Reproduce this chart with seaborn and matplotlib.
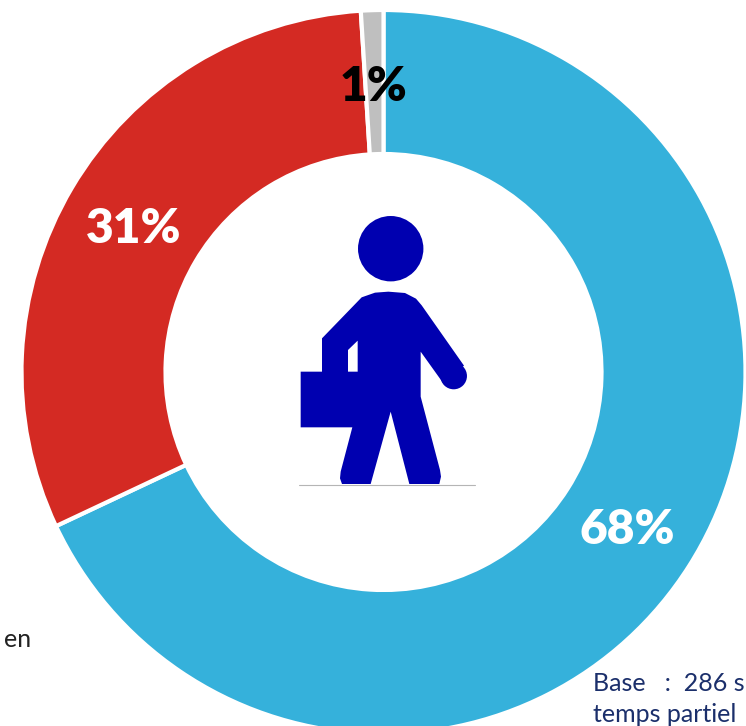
import numpy as np
import matplotlib
matplotlib.use("Agg")
import matplotlib.pyplot as plt
from matplotlib.patches import Circle, Polygon
import seaborn as sns

# share of each group, clockwise from the top
shares = [68, 31, 1]
share_labels = ["68%", "31%", "1%"]
share_colors = ["#35B1DB", "#D42A23", "#BFBFBF"]
label_colors = ["white", "white", "black"]

W, H = 746, 726
ICON = "#0000B0"
NAVY = "#1B2F6B"

sns.set_theme(style="white")
plt.rcParams["font.family"] = ["Lato", "DejaVu Sans"]


def px(x, y):
    # picture pixels (origin top left) to axes data
    return x, H - y


def zoomed(points):
    return [px(280 + a / 3, 200 + b / 3) for a, b in points]


fig = plt.figure(figsize=(W / 100, H / 100), dpi=100)
ax = fig.add_axes([0, 0, 1, 1])

cx, cy = px(383.5, 372)
ax.pie(shares, colors=share_colors, startangle=90, counterclock=False,
       center=(cx, cy), radius=362,
       wedgeprops=dict(width=144, edgecolor="white", linewidth=3))
ax.set_xlim(0, W)
ax.set_ylim(0, H)
ax.set_aspect("equal")
ax.axis("off")

# percent labels
label_pos = [(627, 530), (134, 229), (374, 87)]
for txt, col, (x, y) in zip(share_labels, label_colors, label_pos):
    ax.text(*px(x, y), txt, color=col, fontsize=34.5, fontweight="heavy",
            ha="center", va="center")

# person with briefcase
body = [(245, 292), (285, 278), (325, 275), (375, 279), (408, 296), (425, 316),
        (552, 497), (490, 550), (422, 455), (422, 590), (480, 810), (483, 830),
        (478, 852), (388, 852), (332, 635), (272, 852), (186, 852), (180, 835),
        (182, 815), (217, 682), (62, 682), (62, 515), (126, 515), (126, 415)]
hole = [(204, 450), (233, 422), (233, 515), (204, 515)]
ax.add_patch(Polygon(zoomed(body), closed=True, fc=ICON, ec="none"))
ax.add_patch(Polygon(zoomed(hole), closed=True, fc="white", ec="none"))
ax.add_patch(Circle(px(390.7, 248.7), 32.7, fc=ICON, ec="none"))
ax.add_patch(Circle(px(280 + 521 / 3, 200 + 528 / 3), 13.3, fc=ICON, ec="none"))
ax.plot(*zip(px(299, 484.5), px(475, 484.5)), color="#B5B5B5", lw=0.8)

# leftovers of the surrounding page text
ax.text(*px(4, 647), "en", color="#222222", fontsize=18, ha="left", va="baseline")
ax.text(*px(593, 691), "Base   :  286 s", color=NAVY, fontsize=18,
        ha="left", va="baseline")
ax.text(*px(593, 722), "temps partiel", color=NAVY, fontsize=18,
        ha="left", va="baseline")

fig.savefig("out.png", dpi=100)
plt.close(fig)
